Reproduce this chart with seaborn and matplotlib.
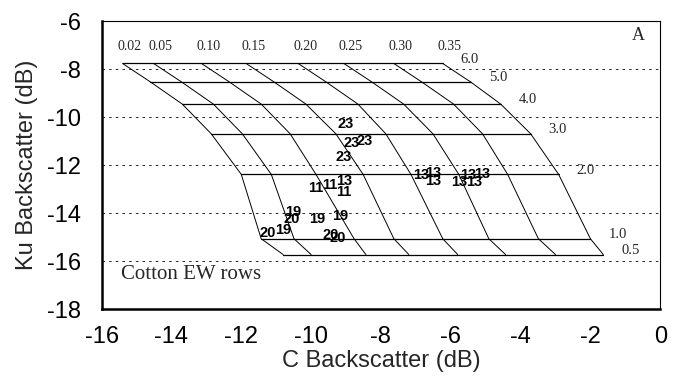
import matplotlib
matplotlib.use("Agg")
import matplotlib.pyplot as plt
import pandas as pd
import seaborn as sns

# --- model grid: soil moisture curves crossed by LAI lines ---

moisture = [0.02, 0.05, 0.10, 0.15, 0.20, 0.25, 0.30, 0.35]
lai = [6.0, 5.0, 4.0, 3.0, 2.0, 1.0, 0.5]
ku_lai = [-7.77, -8.54, -9.46, -10.70, -12.39, -15.07, -15.73]

# C backscatter of each grid node, one row per LAI value
c_grid = [
    [-15.40, -14.51, -13.14, -11.86, -10.37, -9.06, -7.63, -6.23],
    [-14.60, -13.71, -12.34, -11.06, -9.57, -8.26, -6.83, -5.43],
    [-13.69, -12.80, -11.43, -10.15, -8.66, -7.35, -5.92, -4.57],
    [-12.86, -11.97, -10.60, -9.29, -7.86, -6.51, -5.09, -3.71],
    [-12.00, -11.14, -9.86, -8.51, -7.14, -5.77, -4.37, -2.91],
    [-11.43, -10.49, -8.77, -7.63, -6.23, -4.91, -3.49, -2.00],
    [-10.80, -10.00, -8.43, -7.20, -5.80, -4.43, -3.00, -1.63],
]

# --- observed cotton EW rows (labelled by date) ---

obs_label = ["23", "23", "23", "23",
             "11", "11", "13", "11",
             "19", "20", "19", "19", "20", "19", "20", "20",
             "13", "13", "13",
             "13", "13", "13", "13"]
obs_c = [-9.00, -8.83, -8.46, -9.06,
         -9.86, -9.46, -9.06, -9.06,
         -10.51, -10.57, -9.83, -9.17, -11.23, -10.80, -9.43, -9.23,
         -6.86, -6.51, -6.51,
         -5.51, -5.09, -5.77, -5.34]
obs_ku = [-10.29, -11.07, -10.99, -11.65,
          -12.97, -12.85, -12.68, -13.13,
          -13.96, -14.25, -14.25, -14.12, -14.82, -14.70, -14.91, -15.03,
          -12.43, -12.35, -12.68,
          -12.43, -12.39, -12.72, -12.72]

rows = []
for i, l in enumerate(lai):
    for j, m in enumerate(moisture):
        rows.append({"lai": l, "moisture": m, "C": c_grid[i][j], "Ku": ku_lai[i]})
grid = pd.DataFrame(rows)

sns.set_theme(style="white")
plt.rcParams["font.family"] = ["Liberation Sans", "DejaVu Sans"]
plt.rcParams["axes.unicode_minus"] = False

fig = plt.figure(figsize=(6.73, 3.82), dpi=100)
ax = fig.add_axes([0.151, 0.191, 0.830, 0.754])

sns.lineplot(data=grid, x="C", y="Ku", units="moisture", estimator=None,
             sort=False, color="black", linewidth=0.7, ax=ax)
sns.lineplot(data=grid, x="C", y="Ku", units="lai", estimator=None,
             sort=True, color="black", linewidth=0.9, ax=ax)

for lab, c, k in zip(obs_label, obs_c, obs_ku):
    ax.text(c, k, lab, ha="center", va="center", fontsize=10.5,
            fontweight="bold", color="black")

serif = ["Liberation Serif", "DejaVu Serif"]

# moisture labels along the top
for j, m in enumerate(moisture):
    ax.text(c_grid[0][j] + 0.2, -7.07, f"{m:.2f}", ha="center", va="center",
            fontsize=10, family=serif)

# LAI labels at the right end of each line
for i, l in enumerate(lai):
    ax.annotate(f"{l:.1f}", (c_grid[i][-1], ku_lai[i]), xytext=(13, 3),
                textcoords="offset points", ha="left", va="center",
                fontsize=10.5, family=serif)

ax.text(0.961, 0.948, "A", transform=ax.transAxes, ha="center", va="center",
        fontsize=13, family=serif)
ax.text(0.034, 0.12, "Cotton EW rows", transform=ax.transAxes, ha="left",
        va="center", fontsize=15, family=serif)

ax.set_xlim(-16, 0)
ax.set_ylim(-18, -6)
ax.set_xticks(range(-16, 1, 2))
ax.set_yticks(range(-18, -5, 2))
ax.yaxis.grid(True, linestyle=(0, (3, 5)), color="black", linewidth=0.6)
ax.xaxis.grid(False)

ax.set_xlabel("C Backscatter (dB)", fontsize=17, labelpad=2)
ax.set_ylabel("Ku Backscatter (dB)", fontsize=17, labelpad=6)
ax.tick_params(axis="both", labelsize=17, colors="black")
ax.tick_params(axis="x", direction="in", length=3, width=0.8, pad=12)
ax.tick_params(axis="y", direction="out", length=4, width=0.8, pad=11)

for side in ["left", "bottom"]:
    ax.spines[side].set_linewidth(1.8)
for side in ["top", "right"]:
    ax.spines[side].set_linewidth(0.8)
for s in ax.spines.values():
    s.set_color("black")

fig.savefig("out.png", dpi=100)
